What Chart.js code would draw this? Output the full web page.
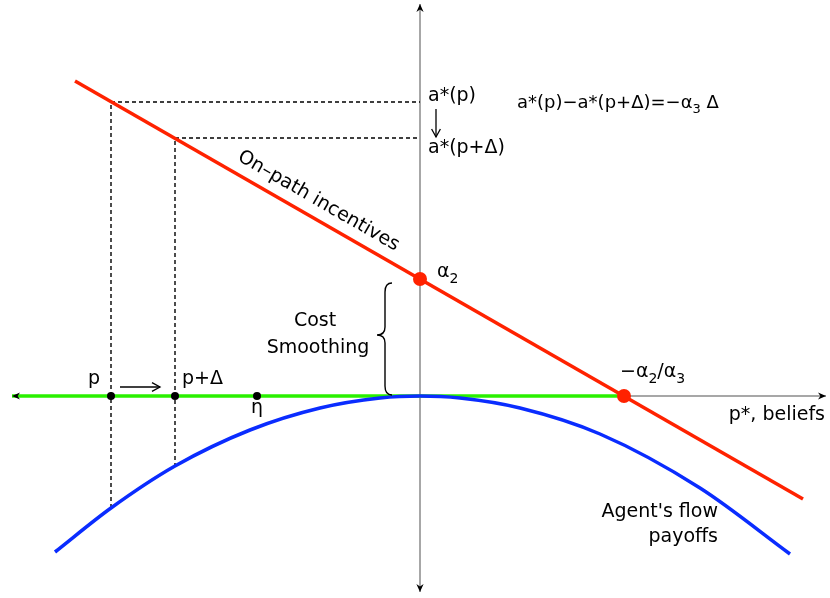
<!DOCTYPE html>
<html>
<head>
<meta charset="utf-8">
<script src="https://cdn.jsdelivr.net/npm/chart.js@4/dist/chart.umd.min.js"></script>
<style>
  html, body { margin: 0; padding: 0; background: #ffffff; }
  #wrap { width: 830px; height: 598px; }
</style>
</head>
<body>
<div id="wrap"><canvas id="c" width="830" height="598"></canvas></div>
<script>
// Model quantities (belief axis p*, payoff axis)
const alpha2 = 1.17;            // intercept of on-path incentives
const rootBelief = 2.04;        // -alpha2/alpha3, where incentives cross zero
const onPathX = [-3.45, 3.83];  // extent of the incentive line
const onPathY = [3.15, -1.03];

// Beliefs marked on the axis: p, p+Δ, η
const beliefNames = ['p', 'p+Δ', 'η'];
const beliefX = [-3.09, -2.45, -1.63];
const aStar = [2.94, 2.58];          // a*(p), a*(p+Δ)
const flowAtBelief = [-1.12, -0.71]; // flow payoff at p, p+Δ

// Agent's flow payoff curve
const flowX = [-3.65, -3.09, -2.45, -1.7, -1.0, -0.4, 0, 0.4, 1.0, 1.8, 2.8, 3.7];
const flowY = [-1.56, -1.12, -0.70, -0.34, -0.12, -0.02, 0, -0.02, -0.12, -0.38, -0.92, -1.58];

// Cost-smoothing segment of the belief axis
const smoothX = [-4.08, 2.04];

// Axis extents
const hAxisX = [-4.08, 4.06];
const vAxisY = [3.92, -1.96];

const FONT = '"DejaVu Sans", Verdana, sans-serif';

function pts(xs, ys) { return xs.map((x, i) => ({ x: x, y: ys[i] })); }

// listed bottom layer first
const datasets = [
  { data: pts(hAxisX, [0, 0]), borderColor: '#8a8a8a', borderWidth: 1.5 },
  { data: pts([0, 0], vAxisY), borderColor: '#8a8a8a', borderWidth: 1.5 },
  // dashed guides from beliefs to a*(.) and to the payoff curve
  { data: [{ x: beliefX[0], y: flowAtBelief[0] }, { x: beliefX[0], y: aStar[0] }, { x: 0, y: aStar[0] }],
    borderColor: '#000', borderWidth: 1.4, borderDash: [4, 3] },
  { data: [{ x: beliefX[1], y: flowAtBelief[1] }, { x: beliefX[1], y: aStar[1] }, { x: 0, y: aStar[1] }],
    borderColor: '#000', borderWidth: 1.4, borderDash: [4, 3] },
  { data: pts(smoothX, [0, 0]), borderColor: '#2af000', borderWidth: 3.5 },
  { data: pts(flowX, flowY), borderColor: '#0a2cff', borderWidth: 3.5, cubicInterpolationMode: 'monotone' },
  { data: pts(onPathX, onPathY), borderColor: '#ff2200', borderWidth: 3.5 },
  // belief markers
  { data: pts(beliefX, [0, 0, 0]), showLine: false, pointRadius: 4, backgroundColor: '#000', borderWidth: 0 },
  // intercept and root
  { data: [{ x: 0, y: alpha2 }, { x: rootBelief, y: 0 }], showLine: false, pointRadius: 7,
    backgroundColor: '#ff2200', borderWidth: 0 }
];
datasets.forEach((d, i) => {
  if (d.showLine === undefined) { d.showLine = true; d.pointRadius = 0; }
  d.clip = false;
  d.fill = false;
  d.order = datasets.length - i;
});

// Draws a run of text parts; parts marked sub are smaller and lowered.
function drawRich(ctx, parts, x, y, align, size) {
  ctx.save();
  ctx.textBaseline = 'middle';
  ctx.textAlign = 'left';
  const widths = parts.map(p => {
    ctx.font = (p.sub ? Math.round(size * 0.72) : size) + 'px ' + FONT;
    return ctx.measureText(p.t).width;
  });
  const total = widths.reduce((a, b) => a + b, 0);
  let cx = align === 'center' ? x - total / 2 : align === 'right' ? x - total : x;
  parts.forEach((p, i) => {
    ctx.font = (p.sub ? Math.round(size * 0.72) : size) + 'px ' + FONT;
    ctx.fillText(p.t, cx, p.sub ? y + size * 0.38 : y);
    cx += widths[i];
  });
  ctx.restore();
}

function arrowHead(ctx, x, y, ang, len, open) {
  ctx.save();
  ctx.translate(x, y);
  ctx.rotate(ang);
  ctx.beginPath();
  if (open) {
    ctx.moveTo(-len, -len * 0.55);
    ctx.lineTo(0, 0);
    ctx.lineTo(-len, len * 0.55);
    ctx.stroke();
  } else {
    ctx.moveTo(0, 0);
    ctx.lineTo(-len, -len * 0.45);
    ctx.lineTo(-len * 0.7, 0);
    ctx.lineTo(-len, len * 0.45);
    ctx.closePath();
    ctx.fill();
  }
  ctx.restore();
}

const annotate = {
  id: 'annotate',
  afterDatasetsDraw(chart) {
    const ctx = chart.ctx;
    const X = v => chart.scales.x.getPixelForValue(v);
    const Y = v => chart.scales.y.getPixelForValue(v);
    const S = 19;
    ctx.save();
    ctx.fillStyle = '#000';
    ctx.strokeStyle = '#000';
    ctx.lineWidth = 1.3;

    // axis arrowheads
    arrowHead(ctx, X(hAxisX[1]), Y(0), 0, 8);
    arrowHead(ctx, X(hAxisX[0]), Y(0), Math.PI, 8);
    arrowHead(ctx, X(0), Y(vAxisY[0]), -Math.PI / 2, 8);
    arrowHead(ctx, X(0), Y(vAxisY[1]), Math.PI / 2, 8);

    // a*(p) and a*(p+Δ)
    const y0 = Y(aStar[0]), y1 = Y(aStar[1]), ax = X(0);
    drawRich(ctx, [{ t: 'a*(p)' }], ax + 8, y0 - 6, 'left', S);
    drawRich(ctx, [{ t: 'a*(p+Δ)' }], ax + 8, y1 + 10, 'left', S);
    ctx.beginPath();
    ctx.moveTo(ax + 16, y0 + 7);
    ctx.lineTo(ax + 16, y1 - 1);
    ctx.stroke();
    arrowHead(ctx, ax + 16, y1 - 1, Math.PI / 2, 8, true);
    drawRich(ctx, [{ t: 'a*(p)−a*(p+Δ)=−α' }, { t: '3', sub: true }, { t: ' Δ' }], ax + 97, y0 + 1, 'left', 18);

    // intercept and root labels
    drawRich(ctx, [{ t: 'α' }, { t: '2', sub: true }], ax + 17, Y(alpha2) - 7, 'left', S);
    drawRich(ctx, [{ t: '−α' }, { t: '2', sub: true }, { t: '/α' }, { t: '3', sub: true }],
      X(rootBelief) - 4, Y(0) - 24, 'left', S);
    drawRich(ctx, [{ t: 'p*, beliefs' }], X(hAxisX[1]) - 1, Y(0) + 19, 'right', S);

    // belief labels and the shift arrow
    const b0 = X(beliefX[0]), b1 = X(beliefX[1]), b2 = X(beliefX[2]), by = Y(0);
    drawRich(ctx, [{ t: beliefNames[0] }], b0 - 17, by - 17, 'center', S);
    drawRich(ctx, [{ t: beliefNames[1] }], b1 + 7, by - 17, 'left', S);
    drawRich(ctx, [{ t: beliefNames[2] }], b2, by + 12, 'center', S);
    ctx.beginPath();
    ctx.moveTo(b0 + 9, by - 9);
    ctx.lineTo(b1 - 15, by - 9);
    ctx.stroke();
    arrowHead(ctx, b1 - 15, by - 9, 0, 8, true);

    // cost smoothing brace
    const bx = 392, top = Y(alpha2) + 4, bot = by - 1, mid = (top + bot) / 2 - 4;
    ctx.lineWidth = 1.4;
    ctx.beginPath();
    ctx.moveTo(bx, top);
    ctx.quadraticCurveTo(bx - 7, top, bx - 7, top + 9);
    ctx.lineTo(bx - 7, mid - 8);
    ctx.quadraticCurveTo(bx - 7, mid, bx - 15, mid);
    ctx.quadraticCurveTo(bx - 7, mid, bx - 7, mid + 8);
    ctx.lineTo(bx - 7, bot - 9);
    ctx.quadraticCurveTo(bx - 7, bot, bx, bot);
    ctx.stroke();
    drawRich(ctx, [{ t: 'Cost' }], 315, 321, 'center', S);
    drawRich(ctx, [{ t: 'Smoothing' }], 318, 348, 'center', S);

    // label along the incentive line
    const slope = (onPathY[1] - onPathY[0]) / (onPathX[1] - onPathX[0]);
    const lx = -1.1, ly = alpha2 + slope * lx;
    const ang = Math.atan2(Y(ly + slope) - Y(ly), X(lx + 1) - X(lx));
    ctx.save();
    ctx.translate(X(lx), Y(ly));
    ctx.rotate(ang);
    drawRich(ctx, [{ t: 'On–path incentives' }], 0, -17, 'center', S);
    ctx.restore();

    // flow payoff label
    drawRich(ctx, [{ t: "Agent's flow" }], 718, 512, 'right', S);
    drawRich(ctx, [{ t: 'payoffs' }], 718, 537, 'right', S);
    ctx.restore();
  }
};

new Chart(document.getElementById('c'), {
  type: 'scatter',
  data: { datasets: datasets },
  options: {
    responsive: false,
    animation: false,
    layout: { padding: 0, autoPadding: false },
    plugins: { legend: { display: false }, tooltip: { enabled: false } },
    scales: {
      x: { type: 'linear', min: -4.2, max: 4.1, display: false },
      y: { type: 'linear', min: -2.02, max: 3.96, display: false }
    }
  },
  plugins: [annotate]
});
</script>
</body>
</html>
